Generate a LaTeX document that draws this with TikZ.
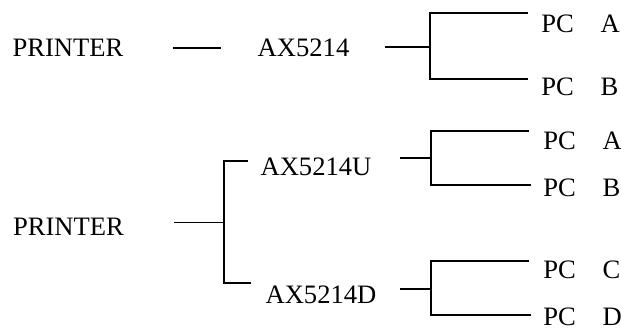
\documentclass[tikz,border=0pt]{standalone}
\usepackage{fontspec}
\setmainfont{Liberation Serif}
\usepackage{tikz}
\usetikzlibrary{positioning}

\begin{document}
\begin{tikzpicture}[x=0.5pt, y=-0.5pt, font=\fontsize{13.3}{15}\selectfont,
            lbl/.style={inner sep=0pt},
            pc/.style={inner sep=0pt, anchor=west},
            thickwire/.style={line width=1pt},
            midwire/.style={line width=0.7pt},
            thinwire/.style={line width=0.5pt}]
            \useasboundingbox (0, 0) rectangle (621, 329);

            \node[lbl] (p1) at (68, 48) {PRINTER};
            \node[lbl] (ax1) at (303.5, 48) {AX5214};
            \node[pc] (pa1) at (541, 23.5) {PC\hspace{1em}A};
            \node[pc] (pb1) at (541, 87) {PC\hspace{1em}B};
            \coordinate (j1) at (430, 47);
            \coordinate (a1) at (528, 13);
            \coordinate (b1) at (528, 79);

            \node[lbl] (p2) at (68.5, 226.5) {PRINTER};
            \node[lbl] (axu) at (316, 166.5) {AX5214U};
            \node[lbl] (axd) at (321, 295) {AX5214D};
            \coordinate (j2) at (224, 222);
            \coordinate (u2) at (248, 161);
            \coordinate (d2) at (251, 283);

            \node[pc] (pa2) at (543, 140.5) {PC\hspace{1em}A};
            \node[pc] (pb2) at (543, 188) {PC\hspace{1em}B};
            \node[pc] (pc2) at (543, 270) {PC\hspace{1em}C};
            \node[pc] (pd2) at (543, 317) {PC\hspace{1em}D};
            \coordinate (ju) at (431, 158);
            \coordinate (au) at (529, 131);
            \coordinate (bu) at (531, 185);
            \coordinate (jd) at (431, 289);
            \coordinate (cd) at (529, 261);
            \coordinate (dd) at (531, 315);

            \draw[thickwire, shorten <=24.5pt, shorten >=18pt] (p1) -- (ax1);
            \draw[thickwire, shorten <=17.5pt] (ax1.east |- j1) -- (j1);
            \draw[thickwire] (j1) |- (a1);
            \draw[thickwire] (j1) |- (b1);

            \draw[thinwire, shorten <=25pt] (p2.east |- j2) -- (j2);
            \draw[thickwire] (j2) |- (u2);
            \draw[thickwire] (j2) |- (d2);

            \draw[midwire, shorten <=14pt] (axu.east |- ju) -- (ju);
            \draw[midwire] (ju) |- (au);
            \draw[midwire] (ju) |- (bu);
            \draw[midwire, shorten <=11.5pt] (axd.east |- jd) -- (jd);
            \draw[midwire] (jd) |- (cd);
            \draw[midwire] (jd) |- (dd);
        \end{tikzpicture}
\end{document}
